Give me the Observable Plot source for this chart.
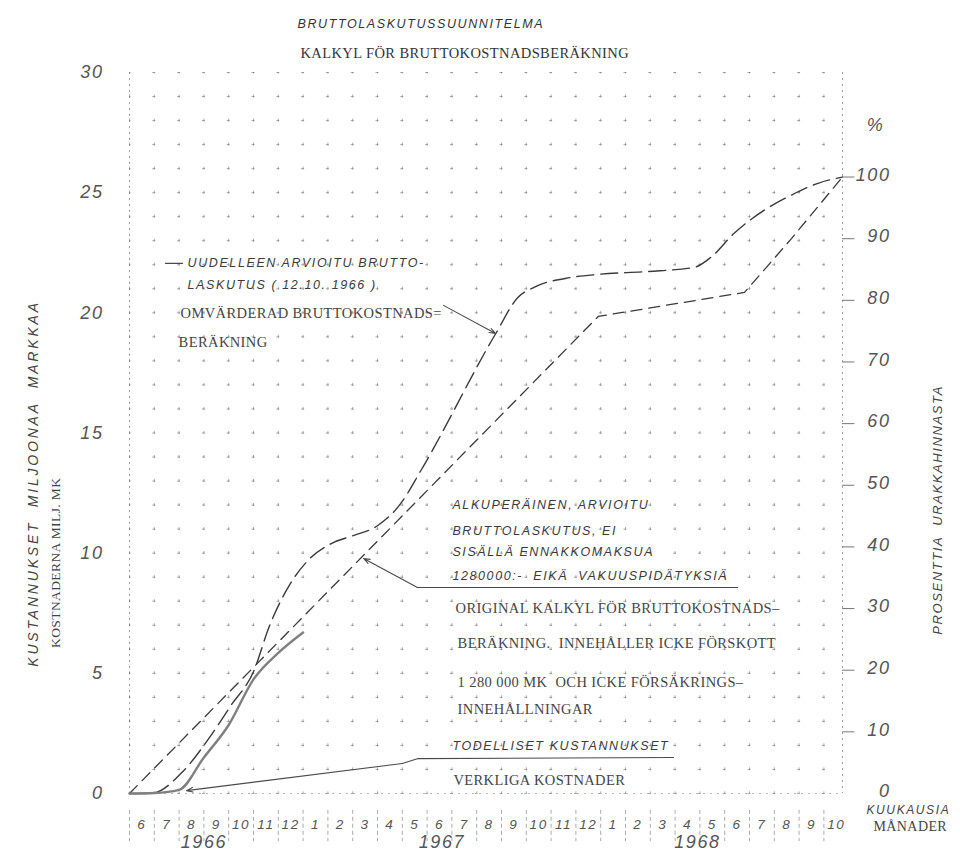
<!DOCTYPE html>
<html>
<head>
<meta charset="utf-8">
<script src="https://cdn.jsdelivr.net/npm/d3@7"></script>
<script src="https://cdn.jsdelivr.net/npm/@observablehq/plot@0.6"></script>
<style>
  body { margin: 0; background: #fff; }
  #chart svg { display: block; }
  g[font-style="italic"] text { letter-spacing: 1.6px; }
  g[font-family="Liberation Serif"] text { letter-spacing: 0.4px; }
</style>
</head>
<body>
<div id="chart"></div>
<script>
// ---------- data ----------
const monthLabels = ["6","7","8","9","10","11","12","1","2","3","4","5","6","7","8","9","10","11","12","1","2","3","4","5","6","7","8","9","10"];
const yearLabels = ["1966", "1967", "1968"];
const yearMonths = [3.0, 12.6, 22.9];
const costTicks = [0, 5, 10, 15, 20, 25, 30];
const percentTicks = [0, 10, 20, 30, 40, 50, 60, 70, 80, 90, 100];
const contractSum = 25.65; // milj. mk = 100 %

// months counted from the start of June 1966; costs in million mk
const revisedMonth = [0, 0.86, 2.19, 3.28, 4.09, 5.02, 5.62, 6.39, 7.2, 8.24, 9.05, 10.01, 10.94, 11.75, 14.77, 15.66, 16.31, 17.8, 18.89, 20.9, 22.76, 23.44, 24.37, 25.58, 26.67, 27.76, 28.75];
const revisedCost  = [0, 0, 0.96, 2.41, 3.66, 5.12, 6.91, 8.57, 9.7, 10.45, 10.74, 11.15, 12.07, 13.44, 19.14, 20.64, 21.06, 21.47, 21.6, 21.72, 21.89, 22.31, 23.3, 24.26, 24.89, 25.39, 25.65];
const originalMonth = [0, 18.9, 24.8, 26.7, 28.75];
const originalCost  = [0, 19.85, 20.85, 23.1, 25.65];
const actualMonth = [0, 1, 2, 3, 4, 5, 6, 7];
const actualCost  = [0, 0.02, 0.15, 1.5, 2.85, 4.75, 5.85, 6.7];

// annotations (anchored in month / million mk)
const finnishNotes = [
  {text: "UUDELLEEN ARVIOITU BRUTTO-", month: 2.34, cost: 22.06},
  {text: "LASKUTUS ( 12.10. 1966 )", month: 2.34, cost: 21.14},
  {text: "ALKUPERÄINEN, ARVIOITU", month: 13.02, cost: 11.99},
  {text: "BRUTTOLASKUTUS, EI", month: 13.02, cost: 10.94},
  {text: "SISÄLLÄ ENNAKKOMAKSUA", month: 13.02, cost: 10.03},
  {text: "1280000:-  EIKÄ  VAKUUSPIDÄTYKSIÄ", month: 13.02, cost: 9.07},
  {text: "TODELLISET KUSTANNUKSET", month: 13.02, cost: 1.96}
];
const swedishNotes = [
  {text: "OMVÄRDERAD BRUTTOKOSTNADS=", month: 2.06, cost: 19.97},
  {text: "BERÄKNING", month: 1.98, cost: 18.77},
  {text: "ORIGINAL KALKYL FÖR BRUTTOKOSTNADS–", month: 13.15, cost: 7.7},
  {text: "BERÄKNING.  INNEHÅLLER ICKE FÖRSKOTT", month: 13.23, cost: 6.24},
  {text: "1 280 000 MK  OCH ICKE FÖRSÄKRINGS–", month: 13.23, cost: 4.62},
  {text: "INNEHÅLLNINGAR", month: 13.23, cost: 3.5},
  {text: "VERKLIGA KOSTNADER", month: 13.06, cost: 0.54}
];
const arrows = [
  {m1: 12.66, c1: 20.31, m2: 14.76, c2: 19.14},
  {m1: 11.61, c1: 8.57, m2: 9.44, c2: 9.78},
  {m1: 11.0, c1: 1.25, m2: 2.3, c2: 0.12}
];
const leaders = [
  {id: "a", month: 11.61, cost: 8.57}, {id: "a", month: 24.52, cost: 8.57},
  {id: "b", month: 11.0, cost: 1.25}, {id: "b", month: 11.61, cost: 1.45}, {id: "b", month: 21.94, cost: 1.5},
  {id: "c", month: 1.45, cost: 22.06}, {id: "c", month: 2.14, cost: 22.06}
];
const leftTitle = "KUSTANNUKSET  MILJOONAA  MARKKAA";
const leftSubtitle = "KOSTNADERNA MILJ. MK";
const rightTitle = "PROSENTTIA  URAKKAHINNASTA";

// ---------- build ----------
const toRows = (xs, ys) => xs.map((m, i) => ({month: m, cost: ys[i]}));
const xEnd = 28.75;
const ink = "#3a3a3a";
const grey = "#555";
const italic = {fontFamily: "Liberation Sans", fontStyle: "italic"};
const serif = {fontFamily: "Liberation Serif"};

const chart = Plot.plot({
  width: 960,
  height: 857,
  marginLeft: 129,
  marginRight: 118,
  marginTop: 72,
  marginBottom: 64,
  x: {domain: [0, xEnd], axis: null},
  y: {domain: [0, 30], axis: null},
  style: {background: "#fff", color: ink},
  marks: [
    // graph paper
    Plot.gridY(d3.range(0, 31), {stroke: "#666", strokeOpacity: 0.55, strokeDasharray: "3,21.8", strokeDashoffset: 1.5}),
    Plot.gridX(d3.range(0, 29), {stroke: "#666", strokeOpacity: 0.55, strokeDasharray: "3,21.03", strokeDashoffset: 1.5}),
    Plot.ruleX([0, xEnd], {stroke: "#777", strokeOpacity: 0.7, strokeDasharray: "2,4"}),
    Plot.ruleY([0], {stroke: "#888", strokeOpacity: 0.6, strokeDasharray: "2,5"}),
    // month separators below the axis
    Plot.ruleX(monthLabels.map((d, i) => i), {y1: -0.7, y2: -2.0, stroke: "#888", strokeOpacity: 0.7, strokeDasharray: "4,3"}),

    // curves
    Plot.line(toRows(originalMonth, originalCost), {x: "month", y: "cost", stroke: ink, strokeWidth: 1.3, strokeDasharray: "11,7"}),
    Plot.line(toRows(revisedMonth, revisedCost), {x: "month", y: "cost", curve: "monotone-x", stroke: ink, strokeWidth: 1.4, strokeDasharray: "17,7"}),
    Plot.line(toRows(actualMonth, actualCost), {x: "month", y: "cost", curve: "monotone-x", stroke: "#808080", strokeWidth: 2.4}),

    // annotation arrows and leaders
    Plot.arrow(arrows, {x1: "m1", y1: "c1", x2: "m2", y2: "c2", stroke: "#4a4a4a", strokeWidth: 1.1, headLength: 9, headAngle: 40}),
    Plot.line(leaders, {x: "month", y: "cost", z: "id", stroke: "#4a4a4a", strokeWidth: 1.1}),

    // annotation texts
    Plot.text(finnishNotes, {x: "month", y: "cost", text: "text", textAnchor: "start", fontSize: 12.5, fill: "#3a3a3a", ...italic}),
    Plot.text(swedishNotes, {x: "month", y: "cost", text: "text", textAnchor: "start", fontSize: 14.5, fill: "#444", ...serif}),

    // left axis (million mk)
    Plot.text(costTicks, {y: d => d, text: d => String(d), frameAnchor: "left", textAnchor: "end", dx: -26, fontSize: 18, fill: grey, ...italic}),
    // right axis (percent of contract price)
    Plot.ruleY(percentTicks.filter(p => p > 0), {y: p => p * contractSum / 100, x1: xEnd, x2: xEnd + 0.5, stroke: "#777"}),
    Plot.text(percentTicks, {y: p => p * contractSum / 100, text: p => String(p), frameAnchor: "right", textAnchor: "end", dx: 48, dy: -2, fontSize: 18, fill: grey, ...italic}),
    Plot.text(["%"], {frameAnchor: "top-right", textAnchor: "middle", dx: 33, dy: 46, fontSize: 18, fill: grey, ...italic}),

    // bottom axis (months, years)
    Plot.text(monthLabels, {x: (d, i) => i + 0.5, text: d => d, frameAnchor: "bottom", dy: 35, fontSize: 13.5, fill: grey, ...italic}),
    Plot.text(yearLabels, {x: (d, i) => yearMonths[i], text: d => d, frameAnchor: "bottom", dy: 54, fontSize: 18, fill: grey, ...italic}),
    Plot.text(["KUUKAUSIA"], {frameAnchor: "bottom-right", textAnchor: "start", dx: 24, dy: 20, fontSize: 12, fill: "#444", ...italic}),
    Plot.text(["MÅNADER"], {frameAnchor: "bottom-right", textAnchor: "start", dx: 31, dy: 37, fontSize: 14, fill: "#444", ...serif}),

    // rotated axis titles
    Plot.text([{t: leftTitle, c: 12.9}], {y: "c", text: "t", frameAnchor: "left", textAnchor: "middle", dx: -96, rotate: -90, fontSize: 14, fill: "#444", ...italic}),
    Plot.text([{t: leftSubtitle, c: 9.6}], {y: "c", text: "t", frameAnchor: "left", textAnchor: "middle", dx: -74, rotate: -90, fontSize: 13.5, fill: "#444", ...serif}),
    Plot.text([{t: rightTitle, c: 11.8}], {y: "c", text: "t", frameAnchor: "right", textAnchor: "middle", dx: 95, rotate: -90, fontSize: 13, fill: "#444", ...italic}),

    // titles
    Plot.text(["BRUTTOLASKUTUSSUUNNITELMA"], {frameAnchor: "top-left", textAnchor: "start", dx: 168, dy: -53, fontSize: 12.5, fill: "#333", ...italic}),
    Plot.text(["KALKYL FÖR BRUTTOKOSTNADSBERÄKNING"], {frameAnchor: "top-left", textAnchor: "start", dx: 171, dy: -25, fontSize: 14.5, fill: "#333", ...serif})
  ]
});

d3.select(chart).selectAll("text")
  .filter(function () { return this.textContent === leftTitle; })
  .style("letter-spacing", "2.8px");

document.getElementById("chart").appendChild(chart);
</script>
</body>
</html>
